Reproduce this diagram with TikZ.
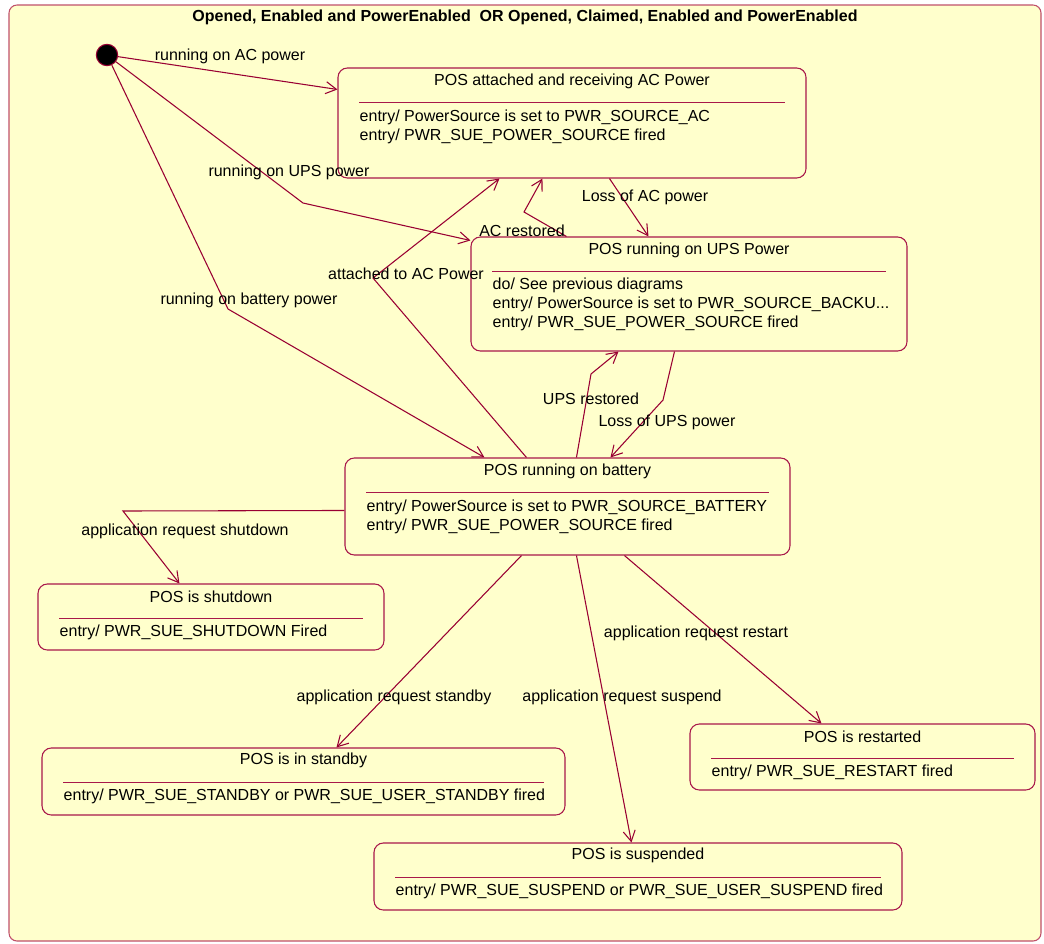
\documentclass[tikz,border=0pt]{standalone}
\usepackage{fontspec}
\setmainfont{Liberation Sans}
\usetikzlibrary{fit, calc, positioning, arrows.meta}
\definecolor{umlline}{HTML}{990033}
\definecolor{umlbox}{HTML}{A8184A}
\definecolor{umlframe}{HTML}{C0506A}
\definecolor{umlfill}{HTML}{FFFFCC}
\tikzset{
  >={Straight Barb[length=8pt, width=9pt]},
  st frame/.style={draw=umlframe, fill=umlfill, rounded corners=6pt, inner sep=0pt,
    line width=0.8pt},
  st box/.style={draw=umlbox, fill=umlfill, rounded corners=7pt, inner sep=0pt,
    line width=0.8pt},
  st head/.style={inner sep=0pt, font=\fontsize{12}{14}\selectfont\bfseries},
  st title/.style={inner sep=0pt, font=\fontsize{12}{14}\selectfont},
  st body/.style={inner sep=0pt, align=left, anchor=north west,
    font=\fontsize{12}{14.4}\selectfont},
  st sep/.style={draw=umlbox, line width=0.6pt},
  st edge/.style={draw=umlline, ->, line width=0.8pt},
  st label/.style={inner sep=0pt, font=\fontsize{12}{14}\selectfont},
  st init/.style={circle, draw=umlline, fill=black, minimum size=16pt, inner sep=0pt,
    line width=0.8pt},
}

\begin{document}
\begin{tikzpicture}[x=0.75pt, y=-0.75pt]
 \useasboundingbox (0,0) rectangle (1044,943);
 \node[st frame, fit={(9,5) (1041,941)}] (outer) {};
 \node[st head] (outerT) at ($(outer.north)+(0,13)$)
   {Opened, Enabled and PowerEnabled\ \ OR Opened, Claimed, Enabled and PowerEnabled};

 \node[st init] (init) at (107,55) {};

 \node[st box, fit={(338,68) (806,178)}] (ac) {};
 \node[st title] (acT) at ($(ac.north)+(0,14)$) {POS attached and receiving AC Power};
 \draw[st sep] ($(ac.north west)+(22,35)$) -- ($(ac.north east)+(-22,35)$);
 \node[st body] (acB) at ($(ac.north west)+(22,42)$)
   {entry/ PowerSource is set to PWR\_SOURCE\_AC\\entry/ PWR\_SUE\_POWER\_SOURCE fired};

 \node[st box, fit={(471,237) (907,351)}] (ups) {};
 \node[st title] (upsT) at ($(ups.north)+(0,14)$) {POS running on UPS Power};
 \draw[st sep] ($(ups.north west)+(22,35)$) -- ($(ups.north east)+(-22,35)$);
 \node[st body] (upsB) at ($(ups.north west)+(22,41)$)
   {do/ See previous diagrams\\entry/ PowerSource is set to PWR\_SOURCE\_BACKU...\\
    entry/ PWR\_SUE\_POWER\_SOURCE fired};

 \node[st box, fit={(345,458) (790,555)}] (bat) {};
 \node[st title] (batT) at ($(bat.north)+(0,14)$) {POS running on battery};
 \draw[st sep] ($(bat.north west)+(22,35)$) -- ($(bat.north east)+(-22,35)$);
 \node[st body] (batB) at ($(bat.north west)+(22,42)$)
   {entry/ PowerSource is set to PWR\_SOURCE\_BATTERY\\entry/ PWR\_SUE\_POWER\_SOURCE fired};

 \node[st box, fit={(38,584) (384,650)}] (shd) {};
 \node[st title] (shdT) at ($(shd.north)+(0,13)$) {POS is shutdown};
 \draw[st sep] ($(shd.north west)+(22,35)$) -- ($(shd.north east)+(-22,35)$);
 \node[st body] (shdB) at ($(shd.north west)+(22,41)$) {entry/ PWR\_SUE\_SHUTDOWN Fired};

 \node[st box, fit={(42,748) (565,815)}] (stb) {};
 \node[st title] (stbT) at ($(stb.north)+(0,13)$) {POS is in standby};
 \draw[st sep] ($(stb.north west)+(22,35)$) -- ($(stb.north east)+(-22,35)$);
 \node[st body] (stbB) at ($(stb.north west)+(22,41)$)
   {entry/ PWR\_SUE\_STANDBY or PWR\_SUE\_USER\_STANDBY fired};

 \node[st box, fit={(690,724) (1035,790)}] (rst) {};
 \node[st title] (rstT) at ($(rst.north)+(0,13)$) {POS is restarted};
 \draw[st sep] ($(rst.north west)+(22,35)$) -- ($(rst.north east)+(-22,35)$);
 \node[st body] (rstB) at ($(rst.north west)+(22,41)$) {entry/ PWR\_SUE\_RESTART fired};

 \node[st box, fit={(374,843) (902,910)}] (sus) {};
 \node[st title] (susT) at ($(sus.north)+(0,13)$) {POS is suspended};
 \draw[st sep] ($(sus.north west)+(22,35)$) -- ($(sus.north east)+(-22,35)$);
 \node[st body] (susB) at ($(sus.north west)+(22,41)$)
   {entry/ PWR\_SUE\_SUSPEND or PWR\_SUE\_USER\_SUSPEND fired};

 \coordinate (bUps) at (303,203);
 \coordinate (bBat) at (228,309);
 \coordinate (bAtt) at (373,278);
 \coordinate (bAcr) at (524,212);
 \coordinate (bUpr) at (591,374);
 \coordinate (bLou) at (663,400);
 \coordinate (bShd) at (123,511);

 \draw[st edge] (init) -- ($(ac.north west)+(0,22)$);
 \draw[st edge] (init) -- (bUps) -- ($(ups.north west)+(0,4)$);
 \draw[st edge] (init) -- (bBat) -- ($(bat.north west)+(140,0)$);
 \draw[st edge] ($(bat.north west)+(182,0)$) -- (bAtt) -- ($(ac.south west)+(162,0)$);
 \draw[st edge] ($(ups.north west)+(96,0)$) -- (bAcr) -- ($(ac.south west)+(205,0)$);
 \draw[st edge] ($(ac.south west)+(272,0)$) -- ($(ups.north west)+(178,0)$);
 \draw[st edge] ($(bat.north west)+(232,0)$) -- (bUpr) -- ($(ups.south west)+(148,0)$);
 \draw[st edge] ($(ups.south west)+(204,0)$) -- (bLou) -- ($(bat.north west)+(266,0)$);
 \draw[st edge] ($(bat.north west)+(0,53)$) -- (bShd) -- ($(shd.north west)+(142,0)$);
 \draw[st edge] ($(bat.south west)+(177,0)$) -- ($(stb.north west)+(295,0)$);
 \draw[st edge] ($(bat.south west)+(232,0)$) -- ($(sus.north west)+(258,0)$);
 \draw[st edge] ($(bat.south west)+(280,0)$) -- ($(rst.north west)+(132,0)$);

 \node[st label] (lAc) at (230,56) {running on AC power};
 \node[st label] (lUps) at (289,172) {running on UPS power};
 \node[st label] (lBat) at (249,300) {running on battery power};
 \node[st label] (lAtt) at (406,274) {attached to AC Power};
 \node[st label] (lAcr) at (522,231) {AC restored};
 \node[st label] (lLoa) at (645,197) {Loss of AC power};
 \node[st label] (lUpr) at (591,399) {UPS restored};
 \node[st label] (lLou) at (667,422) {Loss of UPS power};
 \node[st label] (lShd) at (185,531) {application request shutdown};
 \node[st label] (lStb) at (394,697) {application request standby};
 \node[st label] (lSus) at (622,697) {application request suspend};
 \node[st label] (lRst) at (696,633) {application request restart};
\end{tikzpicture}
\end{document}
